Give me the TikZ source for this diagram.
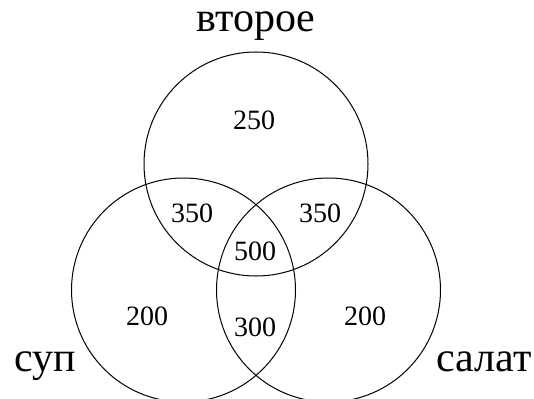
\documentclass[tikz,border=0pt]{standalone}
\usepackage{fontspec}
\setmainfont{Liberation Serif}

\begin{document}
\begin{tikzpicture}[x=1pt,y=-1pt,
		setline/.style={draw=black, line width=1pt, fill=none},
		count/.style={font=\fontsize{28}{28}\selectfont},
		setname/.style={anchor=base, font=\fontsize{42}{42}\selectfont}]
		\useasboundingbox (0, 0) rectangle (534, 398);
		% the three sets
		\draw[setline] (256, 164) circle [radius=112pt];
		\draw[setline] (183.5, 290) circle [radius=112pt];
		\draw[setline] (328.5, 290) circle [radius=112pt];
		% set names
		\node[setname] (vtoroe) at (256, 32) {второе};
		\node[setname] (sup) at (45, 371.5) {суп};
		\node[setname] (salat) at (484, 371.5) {салат};
		% region counts
		\node[count] (onlyvtoroe) at (254, 120) {250};
		\node[count] (supvtoroe) at (192, 213) {350};
		\node[count] (salatvtoroe) at (320, 213) {350};
		\node[count] (all) at (255, 251) {500};
		\node[count] (onlysup) at (147, 316) {200};
		\node[count] (supsalat) at (255, 327) {300};
		\node[count] (onlysalat) at (365, 316) {200};
	\end{tikzpicture}
\end{document}
